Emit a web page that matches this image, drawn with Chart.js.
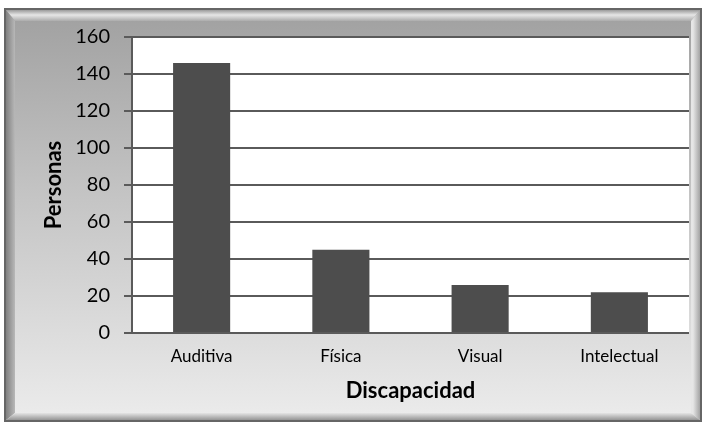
<!DOCTYPE html>
<html>
<head>
<meta charset="utf-8">
<script src="https://cdn.jsdelivr.net/npm/chart.js@4.4.1/dist/chart.umd.min.js"></script>
<style>
  html, body { margin: 0; padding: 0; background: #fff; }
  #wrap { width: 705px; height: 427px; }
</style>
</head>
<body>
<div id="wrap"><canvas id="grafico" width="705" height="427"></canvas></div>
<script>
const categorias = ['Auditiva', 'Física', 'Visual', 'Intelectual'];
const personas = [146, 45, 26, 22];
const yTicks = [0, 20, 40, 60, 80, 100, 120, 140, 160];

const GRID = '#5a5a5a';
const FONT = 'Lato';

// marco biselado con degradado gris y fondo blanco del área de trazado
const marco = {
    id: 'marco',
    beforeDraw(chart) {
        const ctx = chart.ctx;
        const W = chart.width, H = chart.height;
        ctx.save();
        ctx.fillStyle = '#fff';
        ctx.fillRect(0, 0, W, H);

        const x0 = 5, y0 = 9, x1 = 701, y1 = 421;
        const g = ctx.createLinearGradient(0, y0, 0, y1);
        g.addColorStop(0, '#a0a0a0');
        g.addColorStop(0.45, '#c4c4c4');
        g.addColorStop(1, '#ececec');
        ctx.fillStyle = g;
        ctx.fillRect(x0, y0, x1 - x0, y1 - y0);

        // bisel superior claro
        const gt = ctx.createLinearGradient(0, y0, 0, y0 + 12);
        gt.addColorStop(0, '#8c8c8c');
        gt.addColorStop(0.5, '#e6e6e6');
        gt.addColorStop(1, '#acacac');
        ctx.fillStyle = gt;
        ctx.beginPath();
        ctx.moveTo(x0, y0); ctx.lineTo(x1, y0); ctx.lineTo(x1 - 10, y0 + 12); ctx.lineTo(x0 + 10, y0 + 12);
        ctx.closePath(); ctx.fill();

        // bisel izquierdo
        const gl = ctx.createLinearGradient(x0, 0, x0 + 10, 0);
        gl.addColorStop(0, '#7a7a7a');
        gl.addColorStop(1, '#b8b8b8');
        ctx.fillStyle = gl;
        ctx.beginPath();
        ctx.moveTo(x0, y0); ctx.lineTo(x0 + 10, y0 + 12); ctx.lineTo(x0 + 10, y1 - 8); ctx.lineTo(x0, y1);
        ctx.closePath(); ctx.fill();

        // bisel derecho
        const gr = ctx.createLinearGradient(x1 - 8, 0, x1, 0);
        gr.addColorStop(0, '#e6e6e6');
        gr.addColorStop(1, '#9a9a9a');
        ctx.fillStyle = gr;
        ctx.beginPath();
        ctx.moveTo(x1, y0); ctx.lineTo(x1 - 10, y0 + 12); ctx.lineTo(x1 - 10, y1 - 8); ctx.lineTo(x1, y1);
        ctx.closePath(); ctx.fill();

        // bisel inferior
        const gb = ctx.createLinearGradient(0, y1 - 8, 0, y1);
        gb.addColorStop(0, '#e4e4e4');
        gb.addColorStop(1, '#8a8a8a');
        ctx.fillStyle = gb;
        ctx.beginPath();
        ctx.moveTo(x0, y1); ctx.lineTo(x0 + 10, y1 - 8); ctx.lineTo(x1 - 10, y1 - 8); ctx.lineTo(x1, y1);
        ctx.closePath(); ctx.fill();

        ctx.strokeStyle = '#666';
        ctx.lineWidth = 2;
        ctx.strokeRect(x0, y0, x1 - x0, y1 - y0);

        const a = chart.chartArea;
        ctx.fillStyle = '#fff';
        ctx.fillRect(a.left, a.top, a.right - a.left, a.bottom - a.top);
        ctx.restore();
    }
};

new Chart(document.getElementById('grafico'), {
    type: 'bar',
    data: {
        labels: categorias,
        datasets: [{
            data: personas,
            backgroundColor: '#4d4d4d',
            borderWidth: 0,
            barPercentage: 0.41,
            categoryPercentage: 1.0
        }]
    },
    options: {
        responsive: false,
        animation: false,
        layout: { padding: { top: 37, right: 16, left: 0, bottom: 0 } },
        plugins: { legend: { display: false }, tooltip: { enabled: false } },
        scales: {
            x: {
                afterFit: s => { s.height = 94; },
                grid: { display: false, drawTicks: false },
                border: { display: false },
                ticks: { color: '#000', padding: 13, font: { family: FONT, size: 17 } },
                title: {
                    display: true,
                    text: 'Discapacidad',
                    color: '#000',
                    padding: 23,
                    font: { family: FONT, size: 22, weight: 'bold' }
                }
            },
            y: {
                min: 0,
                max: 160,
                afterFit: s => { s.width = 132; },
                afterBuildTicks: s => { s.ticks = yTicks.map(v => ({ value: v })); },
                grid: { color: GRID, lineWidth: 2, tickLength: 8, drawTicks: true },
                border: { color: GRID, width: 2 },
                ticks: { color: '#000', padding: 14, font: { family: FONT, size: 20 } },
                title: {
                    display: true,
                    text: 'Personas',
                    color: '#000',
                    padding: 41,
                    font: { family: FONT, size: 22, weight: 'bold' }
                }
            }
        }
    },
    plugins: [marco]
});
</script>
</body>
</html>
